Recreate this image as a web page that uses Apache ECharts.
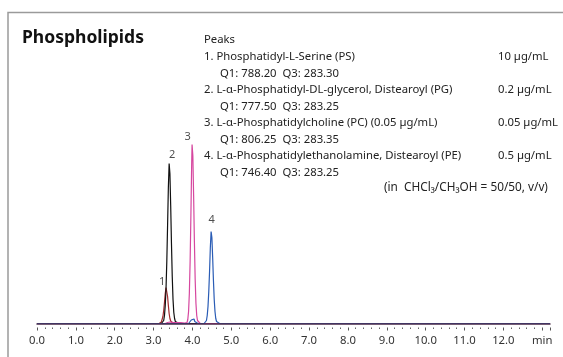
<!DOCTYPE html>
<html><head><meta charset="utf-8">
<script src="https://cdn.jsdelivr.net/npm/echarts@6/dist/echarts.min.js"></script>
<style>html,body{margin:0;padding:0;background:#fff}#c{width:563px;height:357px}</style>
</head><body><div id="c"></div>
<script>
// ---- data ----
const xTickLabels = ['0.0','1.0','2.0','3.0','4.0','5.0','6.0','7.0','8.0','9.0','10.0','11.0','12.0','min'];
const peakNumbers = ['1','2','3','4'];
const peakTimes = [3.32, 3.40, 3.99, 4.48];
const peakHeights = [36, 160, 179, 92];

const tracePS = [[0,0],[3.14,0],[3.18,0.5],[3.20,1.5],[3.22,3.5],[3.24,7],[3.26,13],[3.28,21],[3.30,30],[3.32,36],[3.34,34],[3.36,27],[3.38,18],[3.40,10],[3.42,5],[3.44,2.5],[3.46,1],[3.50,0],[13.2,0]];
const tracePG = [[0,0],[3.20,0],[3.24,1],[3.26,3],[3.28,8],[3.30,18],[3.32,35],[3.34,62],[3.36,98],[3.38,136],[3.40,160],[3.42,150],[3.44,118],[3.46,80],[3.48,47],[3.50,24],[3.52,11],[3.54,5],[3.56,2],[3.60,0.5],[3.66,0],[13.2,0]];
const tracePC = [[0,0],[3.30,0],[3.36,1],[3.42,1.5],[3.50,1.2],[3.60,1],[3.70,0.8],[3.80,0.4],[3.84,0],[3.86,1],[3.88,4],[3.90,12],[3.92,30],[3.94,62],[3.96,108],[3.98,160],[3.99,179],[4.01,168],[4.03,128],[4.05,82],[4.07,44],[4.09,20],[4.11,8],[4.13,3],[4.16,1],[4.20,0],[13.2,0]];
const tracePE = [[0,0],[3.90,0],[3.94,1],[3.97,3.5],[4.00,5],[4.02,4],[4.04,4.5],[4.06,2],[4.10,0.5],[4.14,0],[4.30,0],[4.34,1],[4.36,3],[4.38,8],[4.40,17],[4.42,32],[4.44,52],[4.46,76],[4.48,92],[4.50,86],[4.52,66],[4.54,43],[4.56,24],[4.58,12],[4.60,5],[4.62,2],[4.66,0.5],[4.70,0],[13.2,0]];

const compoundNames = [
  '1. Phosphatidyl-L-Serine (PS)',
  '2. L-\u03b1-Phosphatidyl-DL-glycerol, Distearoyl (PG)',
  '3. L-\u03b1-Phosphatidylcholine (PC) (0.05 \u00b5g/mL)',
  '4. L-\u03b1-Phosphatidylethanolamine, Distearoyl (PE)'
];
const compoundConc = ['10 \u00b5g/mL','0.2 \u00b5g/mL','0.05 \u00b5g/mL','0.5 \u00b5g/mL'];
const compoundTransitions = ['Q1: 788.20  Q3: 283.30','Q1: 777.50  Q3: 283.25','Q1: 806.25  Q3: 283.35','Q1: 746.40  Q3: 283.25'];
const chartTitle = 'Phospholipids';
const legendHeading = 'Peaks';
const solventNote = '(in  CHCl\u2083/CH\u2083OH = 50/50, v/v)';

// ---- styles ----
const FONT = 'Noto Sans';
const colors = ['#a32a2e', '#111111', '#d6479f', '#2a5cb5'];
const traces = [tracePS, tracePG, tracePC, tracePE];
const labelOffsets = [[-4,-6],[3,-9],[-4.5,-8],[0.5,-12]];

const chart = echarts.init(document.getElementById('c'), null, {renderer:'canvas'});

const txt = (s, x, y, size) => ({type:'text', x:x, y:y,
  style:{text:s, font:(size||11)+'px "'+FONT+'"', fill:'#222', verticalAlign:'middle'}});

const graphics = [
  {type:'polyline', shape:{points:[[8,357],[8,12.5],[563,12.5]]}, style:{stroke:'#9a9a9a', lineWidth:1.5, fill:null}},
  {type:'text', x:22, y:38, style:{text:chartTitle, font:'bold 17.5px "'+FONT+'"', fill:'#111', verticalAlign:'middle'}},
  txt(legendHeading, 204, 40, 11.3),
  txt(solventNote, 384, 188, 11.8)
];
compoundNames.forEach((n,i)=>{
  const y = 57 + i*33;
  graphics.push(txt(n, 204, y, 11.3));
  graphics.push(txt(compoundConc[i], 498, y, 11.3));
  graphics.push(txt(compoundTransitions[i], 220, y+16.5, 11.3));
});

const series = traces.map((d,i)=>({
  type:'line', data:d, xAxisIndex:0, yAxisIndex:0, symbol:'none', smooth:false,
  lineStyle:{color:colors[i], width:1.2}, animation:false, z:3+i
}));
series.push({
  type:'scatter', xAxisIndex:0, yAxisIndex:0, symbolSize:0, animation:false, silent:true,
  data: peakNumbers.map((p,i)=>({value:[peakTimes[i], peakHeights[i]], name:p,
    label:{show:true, position:'inside', offset:labelOffsets[i], formatter:p, fontFamily:FONT, fontSize:11, color:'#222'}}))
});

chart.setOption({
  animation:false,
  textStyle:{fontFamily:FONT},
  grid:{left:37, right:13, top:123.5, bottom:33.5, containLabel:false},
  xAxis:[
    {type:'value', min:0, max:13.2, interval:1, position:'bottom',
     axisLine:{show:true, lineStyle:{color:'#4a2848', width:1.5}},
     axisTick:{show:false}, axisLabel:{show:false}, splitLine:{show:false}, z:10},
    {type:'value', min:0, max:13.2, interval:1, position:'bottom', offset:4,
     axisLine:{show:false},
     axisTick:{show:true, length:3, lineStyle:{color:'#555', width:1}},
     minorTick:{show:true, splitNumber:5, length:1.5, lineStyle:{color:'#666', width:1}},
     axisLabel:{show:true, margin:8, fontSize:11.3, color:'#333', fontFamily:FONT,
       formatter:(v)=>{const r=Math.round(v); return Math.abs(v-r)<1e-6 && xTickLabels[r]!==undefined ? xTickLabels[r] : '';}},
     splitLine:{show:false}}
  ],
  yAxis:{type:'value', min:0, max:200, show:false, splitLine:{show:false}},
  series:series,
  graphic:graphics
});
</script></body></html>
